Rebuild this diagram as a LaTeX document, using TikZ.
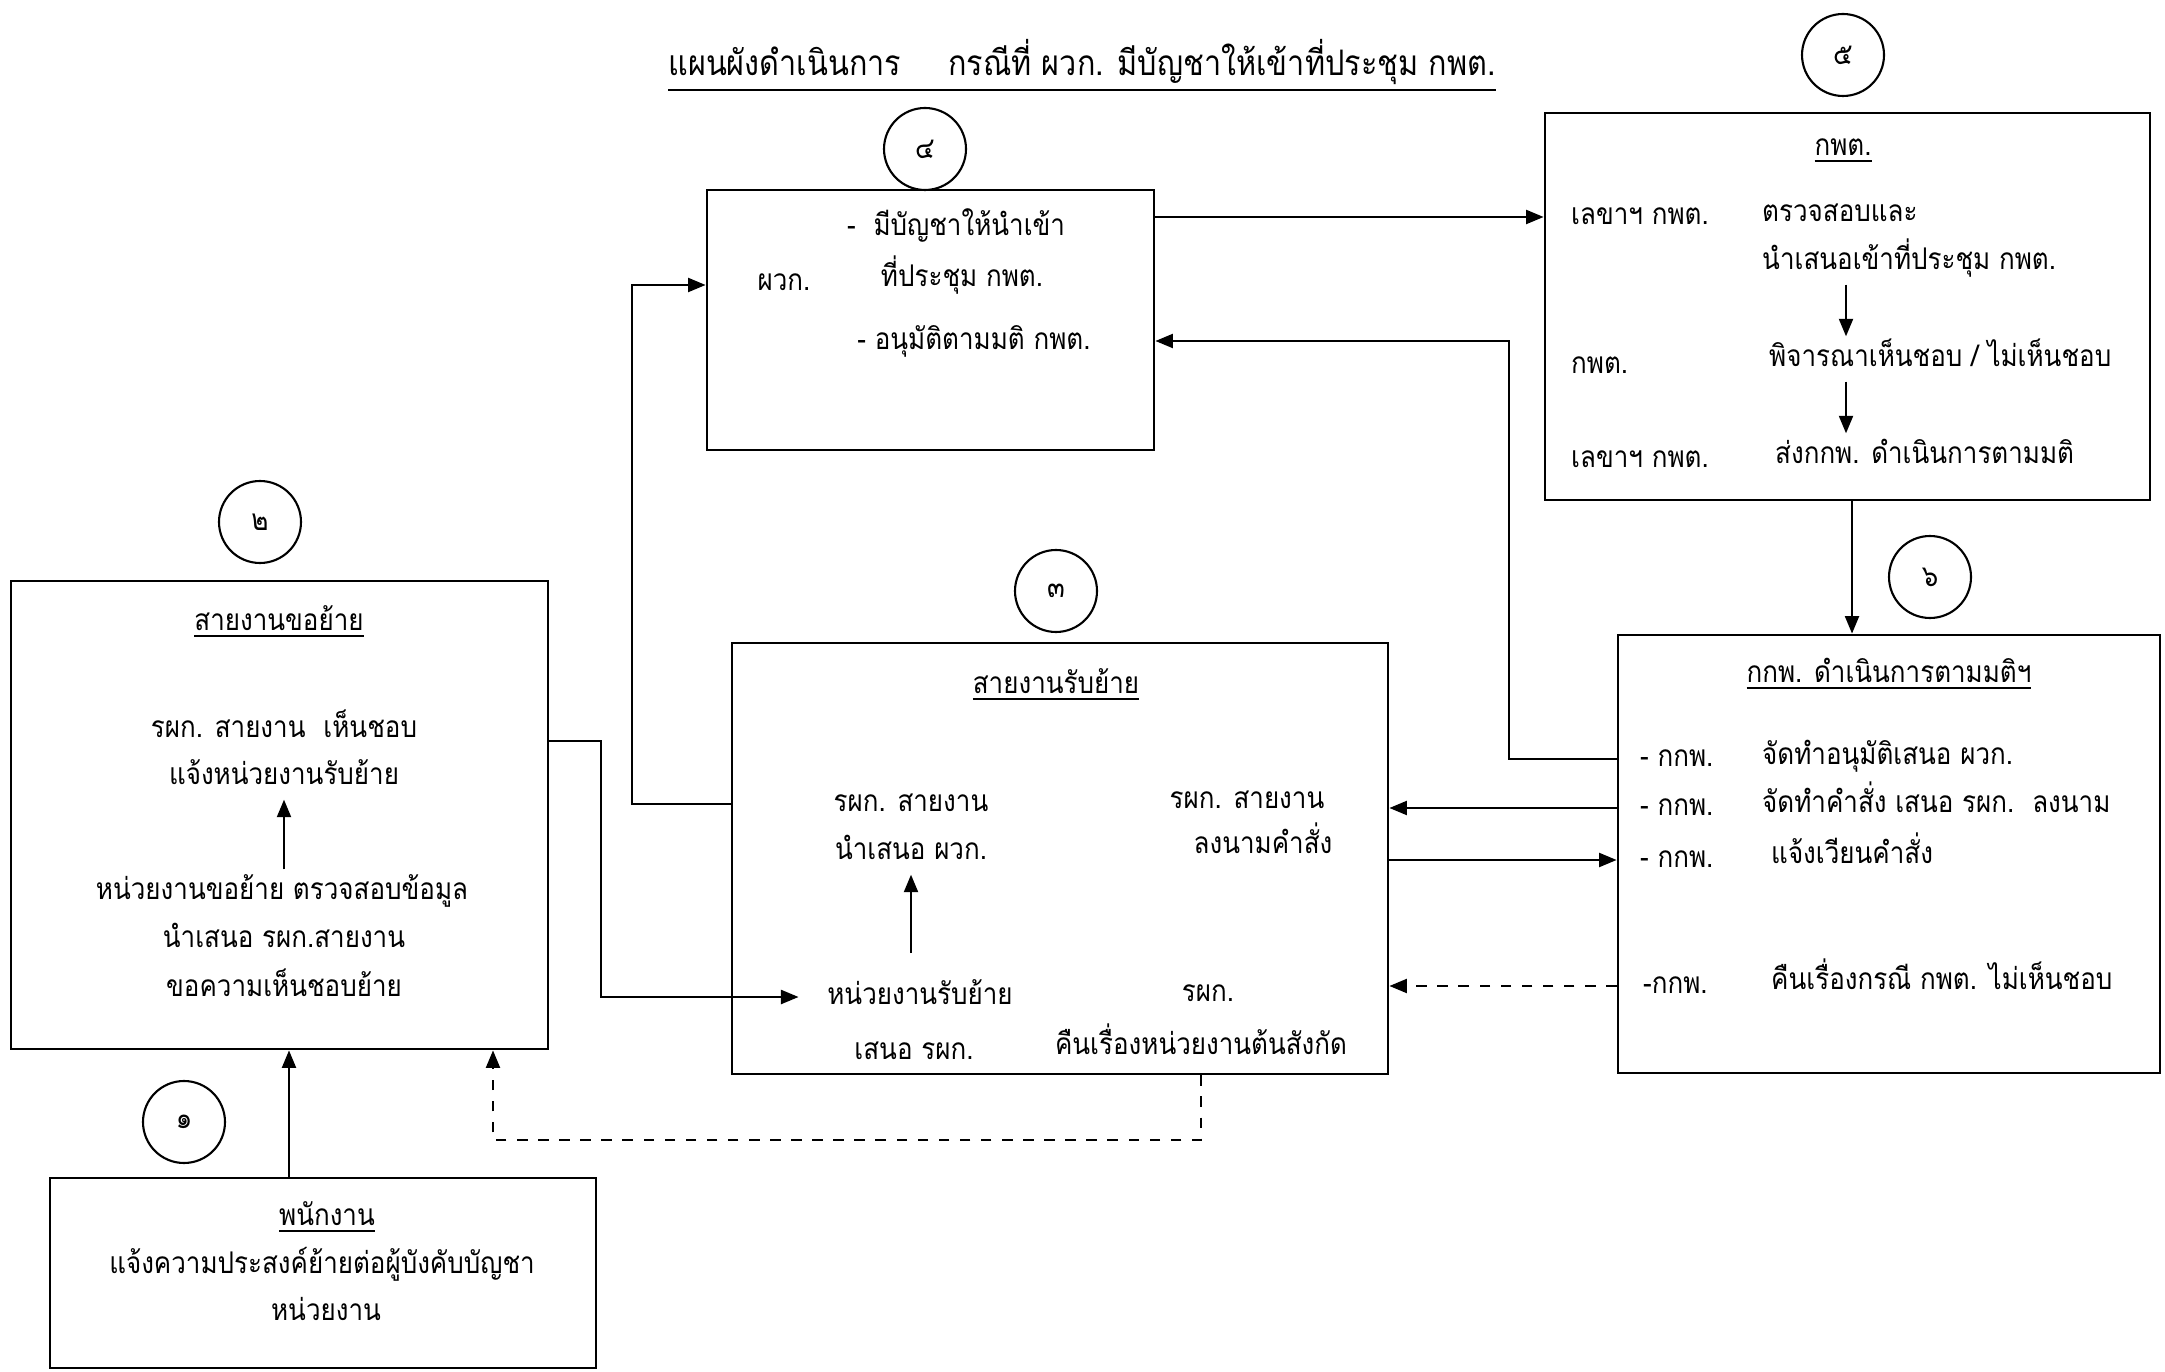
\documentclass[tikz,border=0pt]{standalone}
\usepackage{fontspec}
\setmainfont{Loma}[Script=Thai, FakeStretch=0.87]
\usepackage{tikz}
\usetikzlibrary{arrows.meta, positioning, calc}

\begin{document}
\begin{tikzpicture}[
  panel/.style={draw, line width=0.8pt, inner sep=0pt},
  badge/.style={draw, circle, line width=0.6pt, minimum size=0.82cm, inner sep=0pt},
  txt/.style={inner sep=1pt, text height=7.5pt, text depth=3pt},
  arr/.style={line width=0.6pt, -{Triangle[length=5pt,width=4pt]}},
  font=\fontsize{8.5}{11}\selectfont
]
  \useasboundingbox (0,0) rectangle (21.65,-13.72);

  \node[txt, font=\fontsize{10}{13}\selectfont] (title) at (10.82,-0.68)
    {\underline{แผนผังดำเนินการ\hspace{0.47cm}กรณีที่ ผวก. มีบัญชาให้เข้าที่ประชุม กพต.}};

  \node[panel, minimum width=4.47cm, minimum height=2.60cm] (pwk) at (9.305,-3.20) {};
  \node[panel, minimum width=6.05cm, minimum height=3.87cm] (kpt) at (18.475,-3.065) {};
  \node[panel, minimum width=5.37cm, minimum height=4.68cm] (req) at (2.795,-8.15) {};
  \node[panel, minimum width=6.56cm, minimum height=4.31cm] (rcv) at (10.60,-8.585) {};
  \node[panel, minimum width=5.42cm, minimum height=4.38cm] (hr) at (18.89,-8.54) {};
  \node[panel, minimum width=5.46cm, minimum height=1.90cm] (emp) at (3.23,-12.73) {};

  \node[badge] (n1) at (1.84,-11.22) {๑};
  \node[badge] (n2) at (2.60,-5.22) {๒};
  \node[badge] (n3) at (10.56,-5.91) {๓};
  \node[badge] (n4) at (9.25,-1.49) {๔};
  \node[badge] (n5) at (18.43,-0.55) {๕};
  \node[badge] (n6) at (19.30,-5.77) {๖};

  \node[txt] (pwk1) at (9.56,-2.28) {-\hspace{0.6em}มีบัญชาให้นำเข้า};
  \node[txt] (pwk2) at (7.84,-2.83) {ผวก.};
  \node[txt] (pwk3) at (9.62,-2.79) {ที่ประชุม กพต.};
  \node[txt] (pwk4) at (9.74,-3.42) {- อนุมัติตามมติ กพต.};

  \node[txt] (kpth) at (18.43,-1.48) {\underline{กพต.}};
  \node[txt, anchor=west] (kpt1) at (15.67,-2.17) {เลขาฯ กพต.};
  \node[txt, anchor=west] (kpt2) at (17.58,-2.14) {ตรวจสอบและ};
  \node[txt, anchor=west] (kpt3) at (17.58,-2.62) {นำเสนอเข้าที่ประชุม กพต.};
  \node[txt, anchor=west] (kpt4) at (15.67,-3.66) {กพต.};
  \node[txt, anchor=west] (kpt5) at (17.65,-3.59) {พิจารณาเห็นชอบ / ไม่เห็นชอบ};
  \node[txt, anchor=west] (kpt6) at (15.67,-4.60) {เลขาฯ กพต.};
  \node[txt, anchor=west] (kpt7) at (17.71,-4.56) {ส่งกกพ. ดำเนินการตามมติ};
  \coordinate (kcol) at (18.46,-3.0);

  \node[txt] (reqh) at (2.79,-6.23) {\underline{สายงานขอย้าย}};
  \node[txt] (req1) at (2.84,-7.30) {รผก. สายงาน\hspace{0.6em}เห็นชอบ};
  \node[txt] (req2) at (2.84,-7.77) {แจ้งหน่วยงานรับย้าย};
  \node[txt] (req3) at (2.82,-8.92) {หน่วยงานขอย้าย ตรวจสอบข้อมูล};
  \node[txt] (req4) at (2.84,-9.40) {นำเสนอ รผก.สายงาน};
  \node[txt] (req5) at (2.84,-9.89) {ขอความเห็นชอบย้าย};

  \node[txt] (rcvh) at (10.56,-6.86) {\underline{สายงานรับย้าย}};
  \node[txt] (rcv1) at (9.11,-8.04) {รผก. สายงาน};
  \node[txt] (rcv2) at (9.11,-8.52) {นำเสนอ ผวก.};
  \node[txt] (rcv3) at (9.20,-9.97) {หน่วยงานรับย้าย};
  \node[txt] (rcv4) at (9.14,-10.52) {เสนอ รผก.};
  \node[txt] (rcv5) at (12.47,-8.01) {รผก. สายงาน};
  \node[txt] (rcv6) at (12.63,-8.46) {ลงนามคำสั่ง};
  \node[txt] (rcv7) at (12.08,-9.94) {รผก.};
  \node[txt] (rcv8) at (12.01,-10.47) {คืนเรื่องหน่วยงานต้นสังกัด};

  \node[txt] (hrh) at (18.89,-6.75) {\underline{กกพ. ดำเนินการตามมติฯ}};
  \node[txt, anchor=west] (hr1) at (16.36,-7.59) {- กกพ.};
  \node[txt, anchor=west] (hr2) at (17.58,-7.57) {จัดทำอนุมัติเสนอ ผวก.};
  \node[txt, anchor=west] (hr3) at (16.36,-8.08) {- กกพ.};
  \node[txt, anchor=west] (hr4) at (17.58,-8.05) {จัดทำคำสั่ง เสนอ รผก.\hspace{0.6em}ลงนาม};
  \node[txt, anchor=west] (hr5) at (16.36,-8.60) {- กกพ.};
  \node[txt, anchor=west] (hr6) at (17.67,-8.56) {แจ้งเวียนคำสั่ง};
  \node[txt, anchor=west] (hr7) at (16.39,-9.86) {-กกพ.};
  \node[txt, anchor=west] (hr8) at (17.67,-9.82) {คืนเรื่องกรณี กพต. ไม่เห็นชอบ};

  \node[txt] (emph) at (3.27,-12.18) {\underline{พนักงาน}};
  \node[txt] (emp1) at (3.22,-12.66) {แจ้งความประสงค์ย้ายต่อผู้บังคับบัญชา};
  \node[txt] (emp2) at (3.26,-13.13) {หน่วยงาน};

  \coordinate (up1) at (2.89,-11.0);
  \coordinate (up2) at (6.32,-2.85);
  \coordinate (back4) at (15.09,-3.41);
  \coordinate (down5) at (18.52,-5.0);
  \coordinate (side2) at (6.01,-7.41);
  \coordinate (ret3) at (4.93,-11.40);

  \draw[arr] (req2.south |- req3.north) -- (req2.south);
  \draw[arr, shorten <=6pt] (rcv2.south |- rcv3.north) -- (rcv2.south);
  \draw[arr] (kpt3.south -| kcol) -- (kpt5.north -| kcol);
  \draw[arr] (kpt5.south -| kcol) -- (kpt7.north -| kcol);

  \draw[arr] (emp.north -| up1) -- (req.south -| up1);
  \draw[arr, shorten >=7pt] (req.east |- side2) -- (side2) |- (rcv3.west);
  \draw[arr, dashed] (rcv.south -| rcv8) |- (ret3) -- (req.south -| ret3);
  \draw[arr] (rcv.west |- rcv1) -| (up2) -- (pwk.west |- up2);
  \draw[arr] (pwk.east |- kpt1) -- (kpt.west |- kpt1);
  \draw[arr] (hr.west |- hr1) -| (back4) -- (pwk.east |- back4);
  \draw[arr] (kpt.south -| down5) -- (hr.north -| down5);
  \draw[arr] (hr.west |- hr3) -- (rcv.east |- hr3);
  \draw[arr] (rcv.east |- hr5) -- (hr.west |- hr5);
  \draw[arr, dashed] (hr.west |- hr7) -- (rcv.east |- hr7);
\end{tikzpicture}
\end{document}
